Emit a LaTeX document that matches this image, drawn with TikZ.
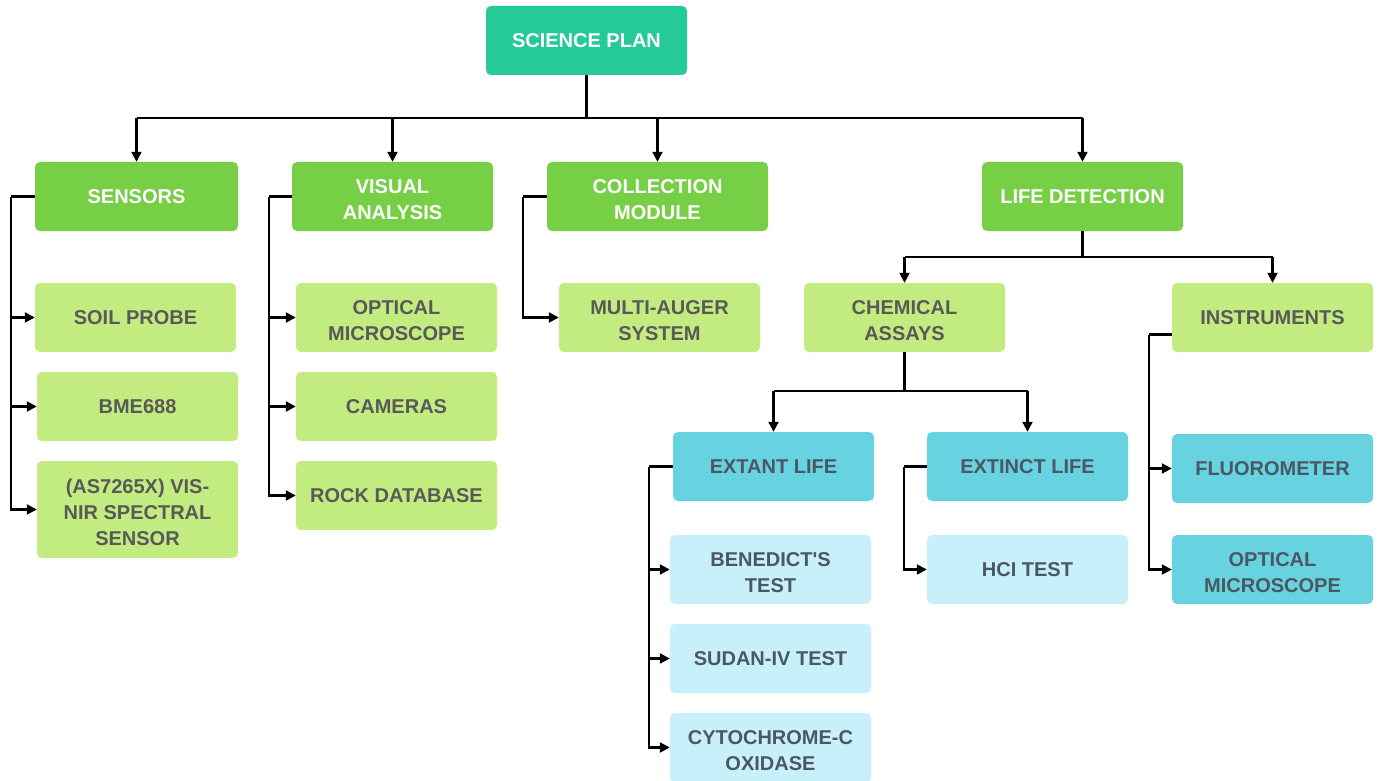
\documentclass[tikz,border=0pt]{standalone}
\usepackage{fontspec}
\setmainfont{Liberation Sans}
\usetikzlibrary{arrows.meta}
\definecolor{cplan}{HTML}{26C998}
\definecolor{cgreen}{HTML}{77CF46}
\definecolor{clgreen}{HTML}{C3EC80}
\definecolor{ccyan}{HTML}{67D3E0}
\definecolor{clcyan}{HTML}{C8F0FB}
\definecolor{tgrey}{HTML}{595959}
\definecolor{tslate}{HTML}{4B5762}
\newcommand\mlines[1]{\raisebox{-9.5pt}[0pt][0pt]{\begin{tabular}{@{}c@{}}#1\end{tabular}}}
\begin{document}
\begin{tikzpicture}[x=1pt,y=-1pt,
  box/.style={rounded corners=5pt, minimum width=201pt, minimum height=69pt, inner sep=0pt, align=center,
    font=\fontsize{20}{26}\selectfont\bfseries},
  planbox/.style={box, fill=cplan, text=white},
  topbox/.style={box, fill=cgreen, text=white},
  leafg/.style={box, fill=clgreen, text=tgrey},
  cyanbox/.style={box, fill=ccyan, text=tslate},
  leafc/.style={box, fill=clcyan, text=tslate},
  conn/.style={line width=2.2pt},
  arr/.style={conn, -{Triangle[length=10pt,width=10pt]}}]
\useasboundingbox (0,0) rectangle (1382,781);
% nodes
\node[planbox] (plan) at (586.5,40.5) {SCIENCE PLAN};
\node[topbox, minimum width=203pt] (sensors) at (136.5,196.5) {SENSORS};
\node[topbox] (visual) at (392.5,196.5) {\mlines{VISUAL\\ANALYSIS}};
\node[topbox, minimum width=221pt] (collection) at (657.5,196.5) {\mlines{COLLECTION\\MODULE}};
\node[topbox] (life) at (1082.5,196.5) {LIFE DETECTION};
\node[leafg] (soil) at (135.5,317.5) {SOIL PROBE};
\node[leafg] (bme) at (137.5,406.5) {BME688};
\node[leafg, minimum height=97pt] (as) at (137.5,509.5) {\mlines{(AS7265X) VIS-\\NIR SPECTRAL\\SENSOR}};
\node[leafg] (opt1) at (396.5,317.5) {\mlines{OPTICAL\\MICROSCOPE}};
\node[leafg] (cam) at (396.5,406.5) {CAMERAS};
\node[leafg] (rock) at (396.5,495.5) {ROCK DATABASE};
\node[leafg] (auger) at (659.5,317.5) {\mlines{MULTI-AUGER\\SYSTEM}};
\node[leafg] (chem) at (904.5,317.5) {\mlines{CHEMICAL\\ASSAYS}};
\node[leafg] (instr) at (1272.5,317.5) {INSTRUMENTS};
\node[cyanbox] (extant) at (773.5,466.5) {EXTANT LIFE};
\node[cyanbox] (extinct) at (1027.5,466.5) {EXTINCT LIFE};
\node[cyanbox] (fluoro) at (1272.5,468.5) {FLUOROMETER};
\node[cyanbox] (opt2) at (1272.5,569.5) {\mlines{OPTICAL\\MICROSCOPE}};
\node[leafc] (bened) at (770.5,569.5) {\mlines{BENEDICT\textquotesingle S\\TEST}};
\node[leafc] (sudan) at (770.5,658.5) {SUDAN-IV TEST};
\node[leafc] (cyto) at (770.5,747.5) {\mlines{CYTOCHROME-C\\OXIDASE}};
\node[leafc] (hci) at (1027.5,569.5) {HCI TEST};
% top bus
\draw[conn] (plan.south) -- ++(0,43) coordinate (bus1);
\draw[conn] (sensors.north |- bus1) -- (life.north |- bus1);
\foreach \n in {sensors,visual,collection,life}
  \draw[arr] (\n.north |- bus1) -- (\n.north);
% life detection bus
\draw[conn] (life.south) -- ++(0,26) coordinate (bus2);
\draw[conn] (chem.north |- bus2) -- (instr.north |- bus2);
\foreach \n in {chem,instr}
  \draw[arr] (\n.north |- bus2) -- (\n.north);
% chemical bus
\draw[conn] (chem.south) -- ++(0,39) coordinate (bus3);
\draw[conn] (extant.north |- bus3) -- (extinct.north |- bus3);
\foreach \n in {extant,extinct}
  \draw[arr] (\n.north |- bus3) -- (\n.north);
% side connectors
\draw[conn] (sensors.west) -- ++(-24,0) coordinate (s0);
\foreach \n in {soil,bme,as} \draw[arr] (s0) |- (\n.west);
\draw[conn] (visual.west) -- ++(-23,0) coordinate (v0);
\foreach \n in {opt1,cam,rock} \draw[arr] (v0) |- (\n.west);
\draw[conn] (collection.west) -- ++(-24,0) coordinate (c0);
\draw[arr] (c0) |- (auger.west);
\draw[conn] (extant.west) -- ++(-24,0) coordinate (e0);
\foreach \n in {bened,sudan,cyto} \draw[arr] (e0) |- (\n.west);
\draw[conn] (extinct.west) -- ++(-23,0) coordinate (x0);
\draw[arr] (x0) |- (hci.west);
\draw[conn] ([yshift=-17pt]instr.west) -- ++(-23,0) coordinate (i0);
\foreach \n in {fluoro,opt2} \draw[arr] (i0) |- (\n.west);
\end{tikzpicture}
\end{document}
